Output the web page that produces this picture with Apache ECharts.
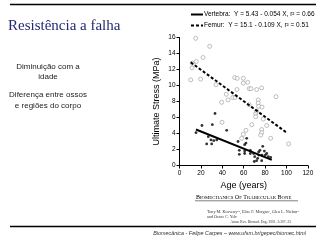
<!DOCTYPE html>
<html>
<head>
<meta charset="utf-8">
<script src="https://cdn.jsdelivr.net/npm/echarts@6/dist/echarts.min.js"></script>
<style>
  html, body { margin: 0; padding: 0; background: #fff; }
  #main { width: 320px; height: 240px; }
</style>
</head>
<body>
<div id="main"></div>
<script>
// scatter points: [age, stress]
var femurPoints = [
  [15.1, 15.9], [28.2, 14.9], [22, 13.5], [15.7, 13.0], [12, 12.8], [11.7, 12.2],
  [10.5, 10.7], [19.8, 10.8], [34.1, 10.1], [51.6, 11.0], [54, 10.9], [59.6, 10.9],
  [63.7, 10.4], [59.6, 10.3], [53.7, 9.5], [65.2, 9.6], [66.8, 9.6], [72.1, 9.5],
  [76.8, 9.7], [43.7, 8.9], [45.3, 8.2], [49.7, 8.5], [51.9, 8.5], [39.4, 7.9],
  [73.6, 8.2], [73.6, 7.8], [74, 7.4], [77.1, 7.3], [90.2, 8.6], [65, 7.6],
  [39.7, 5.4], [71.2, 6.5], [71.2, 6.1], [72.1, 6.8], [67.5, 5.1], [78.3, 5.8],
  [81.5, 5.0], [76.8, 4.5], [76.8, 4.1], [75.9, 3.8], [62.1, 4.4], [59.6, 3.9],
  [58.1, 3.4], [85.2, 3.4], [102, 2.7]
];
var vertebraPoints = [
  [15.4, 4.1], [21, 5.0], [30.7, 5.1], [33.2, 6.5], [44.1, 4.4], [25.4, 2.7],
  [29.4, 3.2], [30.1, 2.7], [32, 3.1], [34.8, 3.2], [26.9, 3.6], [54.7, 3.0],
  [55.9, 1.9], [55.9, 1.4], [60.9, 2.6], [62.1, 2.8], [62.8, 3.4], [60.9, 1.8],
  [60.9, 1.5], [66.2, 1.9], [66.2, 1.5], [69.3, 1.5], [70.3, 1.1], [69.9, 0.5],
  [72.1, 0.6], [73.1, 0.9], [74, 1.3], [74, 1.7], [75.2, 1.9], [77.8, 2.4],
  [77.1, 1.3], [79.3, 1.8], [80.2, 1.3], [81.5, 1.5], [83, 1.1], [85.2, 1.0],
  [76.8, 0.6]
];
// fitted lines, end points as drawn
var vertebraFit = [[15.4, 4.5], [86.2, 0.7]];
var femurFit = [[10.5, 12.9], [100.2, 4.1]];

var legendNames = [
  'Vertebra:  Y = 5.43 - 0.054 X, r\u00b2 = 0.66',
  'Femur:  Y = 15.1 - 0.109 X, r\u00b2 = 0.51'
];

var chart = echarts.init(document.getElementById('main'), null, { renderer: 'canvas' });

var option = {
  animation: false,
  backgroundColor: '#fff',
  grid: { left: 179.5, top: 37.5, width: 128.4, height: 128 },
  legend: {
    data: legendNames,
    orient: 'vertical',
    left: 190,
    top: 11,
    itemWidth: 12,
    itemHeight: 6,
    itemGap: 4,
    padding: 0,
    itemStyle: { opacity: 0 },
    textStyle: { fontSize: 6.5, color: '#000', fontFamily: 'Liberation Sans', padding: [0, 0, 0, -4] }
  },
  xAxis: {
    type: 'value',
    min: 0, max: 120, interval: 20,
    name: 'Age (years)',
    nameLocation: 'middle',
    nameGap: 12,
    nameTextStyle: { fontSize: 9, color: '#000', fontFamily: 'Liberation Sans' },
    axisLine: { lineStyle: { color: '#000', width: 1 } },
    axisTick: { length: 3, lineStyle: { color: '#000' } },
    axisLabel: { fontSize: 6.5, color: '#000', margin: 4, fontFamily: 'Liberation Sans' },
    splitLine: { show: false }
  },
  yAxis: {
    type: 'value',
    min: 0, max: 16, interval: 2,
    name: 'Ultimate Stress (MPa)',
    nameLocation: 'middle',
    nameGap: 18,
    nameTextStyle: { fontSize: 9, color: '#000', fontFamily: 'Liberation Sans' },
    axisLine: { show: true, lineStyle: { color: '#000', width: 1 } },
    axisTick: { show: true, length: 3, lineStyle: { color: '#000' } },
    axisLabel: { fontSize: 6.5, color: '#000', margin: 4, fontFamily: 'Liberation Sans' },
    splitLine: { show: false }
  },
  series: [
    {
      name: 'femur pts',
      type: 'scatter',
      data: femurPoints,
      symbol: 'circle',
      symbolSize: 4,
      itemStyle: { color: '#fff', borderColor: '#9a9a9a', borderWidth: 0.8 }
    },
    {
      name: 'vertebra pts',
      type: 'scatter',
      data: vertebraPoints,
      symbol: 'circle',
      symbolSize: 2.8,
      itemStyle: { color: '#000' }
    },
    {
      name: legendNames[0],
      type: 'line',
      data: vertebraFit,
      symbol: 'none',
      lineStyle: { color: '#000', width: 2, type: 'solid' },
      itemStyle: { color: '#000' }
    },
    {
      name: legendNames[1],
      type: 'line',
      data: femurFit,
      symbol: 'none',
      lineStyle: { color: '#000', width: 2, type: [3, 2] },
      itemStyle: { color: '#000' }
    }
  ],
  graphic: [
    { type: 'line', shape: { x1: 10, y1: 4.5, x2: 316, y2: 4.5 }, style: { stroke: '#000', lineWidth: 1.5 } },
    { type: 'text', left: 8, top: 19, style: { text: 'Resistência a falha', fontSize: 15, fontFamily: 'Liberation Serif', fill: '#232a73' } },
    { type: 'text', x: 48, y: 67, style: { text: 'Diminuição com a', fontSize: 8, fontFamily: 'Liberation Sans', fill: '#222', align: 'center', verticalAlign: 'middle' } },
    { type: 'text', x: 48, y: 77, style: { text: 'idade', fontSize: 8, fontFamily: 'Liberation Sans', fill: '#222', align: 'center', verticalAlign: 'middle' } },
    { type: 'text', x: 48, y: 95, style: { text: 'Diferença entre ossos', fontSize: 8, fontFamily: 'Liberation Sans', fill: '#222', align: 'center', verticalAlign: 'middle' } },
    { type: 'text', x: 48, y: 106, style: { text: 'e regiões do corpo', fontSize: 8, fontFamily: 'Liberation Sans', fill: '#222', align: 'center', verticalAlign: 'middle' } },
    {
      type: 'text', x: 196, y: 197.5,
      style: {
        text: '{b|B}{s|IOMECHANICS} {b|O}{s|F} {b|T}{s|RABECULAR} {b|B}{s|ONE}',
        verticalAlign: 'middle',
        rich: {
          b: { fontSize: 6, fontFamily: 'Liberation Serif', fill: '#000' },
          s: { fontSize: 4.8, fontFamily: 'Liberation Serif', fill: '#000' }
        },
        fontFamily: 'Liberation Serif', fontSize: 6, fill: '#000'
      }
    },
    { type: 'line', shape: { x1: 195, y1: 200.8, x2: 298, y2: 200.8 }, style: { stroke: '#000', lineWidth: 0.5 } },
    { type: 'text', x: 207, y: 212, style: { text: 'Tony M. Keaveny\u00b9\u00b2, Elise F. Morgan\u00b9, Glen L. Niebur\u00b3', fontSize: 4.2, fontFamily: 'Liberation Serif', fill: '#333', verticalAlign: 'middle' } },
    { type: 'text', x: 207, y: 216.5, style: { text: 'and Oscar C. Yeh\u00b9', fontSize: 4.2, fontFamily: 'Liberation Serif', fill: '#333', verticalAlign: 'middle' } },
    { type: 'text', x: 291, y: 222, style: { text: 'Annu. Rev. Biomed. Eng. 2001. 3:307\u201333', fontSize: 3.6, fontFamily: 'Liberation Serif', fill: '#333', align: 'right', verticalAlign: 'middle' } },
    { type: 'line', shape: { x1: 10, y1: 226.5, x2: 316, y2: 226.5 }, style: { stroke: '#000', lineWidth: 1.5 } },
    { type: 'text', x: 306, y: 233, style: { text: 'Biomecânica - Felipe Carpes \u2013 www.ufsm.br/gepec/biomec.html', fontSize: 5.4, fontStyle: 'italic', fontFamily: 'Liberation Sans', fill: '#333', align: 'right', verticalAlign: 'middle' } }
  ]
};

chart.setOption(option);
</script>
</body>
</html>
